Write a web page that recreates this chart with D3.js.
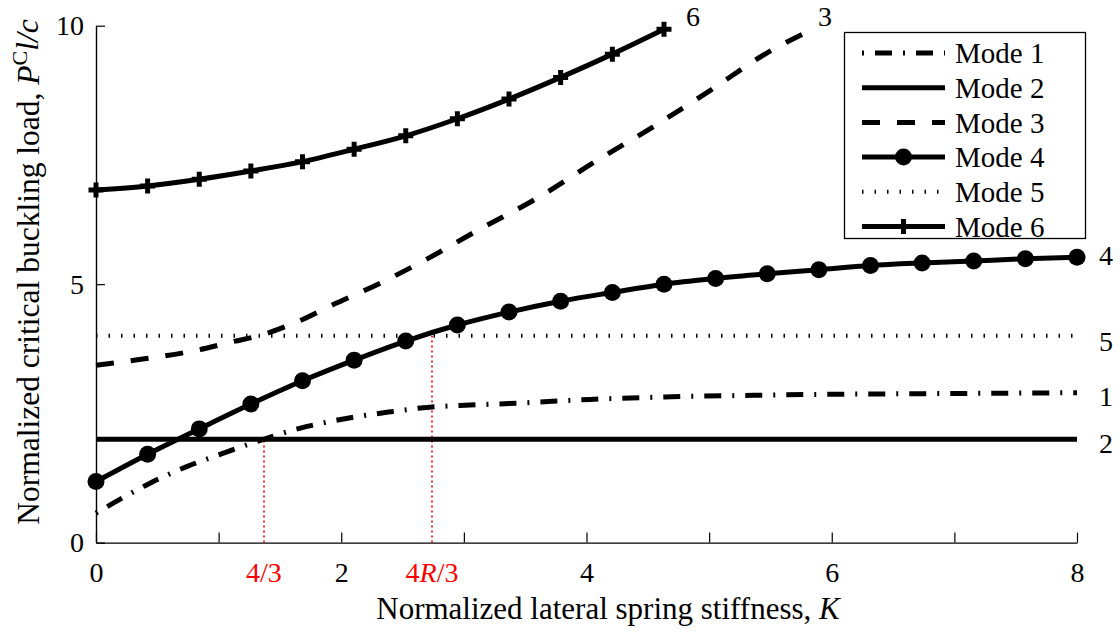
<!DOCTYPE html>
<html>
<head>
<meta charset="utf-8">
<script src="https://cdn.jsdelivr.net/npm/d3@7"></script>
<style>
  html, body { margin: 0; padding: 0; background: #fff; }
  svg { display: block; }
  text { font-family: "Liberation Serif", "Times New Roman", serif; fill: #000; }
</style>
</head>
<body>
<svg id="chart" width="1120" height="632"></svg>
<script>
// ---------- data ----------
const xTicks = [0, 1, 2, 3, 4, 5, 6, 7, 8];
const xTickLabels = ["0", "", "2", "", "4", "", "6", "", "8"];
const yTicks = [0, 5, 10];
const yTickLabels = ["0", "5", "10"];

// marker grid (K)
const kMarkers = [0, 0.421, 0.842, 1.263, 1.684, 2.105, 2.526, 2.947, 3.368, 3.789,
                  4.211, 4.632, 5.053, 5.474, 5.895, 6.316, 6.737, 7.158, 7.579, 8];

// Mode 1 (dash-dot)
const mode1K = [0, 0.22, 0.44, 0.74, 1.04, 1.34, 1.66, 2.04, 2.40, 2.72, 3.05, 3.37, 4.03, 4.69, 5.37, 6.05, 6.71, 7.39, 8];
const mode1P = [0.57, 0.87, 1.15, 1.47, 1.73, 1.98, 2.21, 2.40, 2.53, 2.62, 2.66, 2.69, 2.77, 2.82, 2.85, 2.87, 2.88, 2.89, 2.90];

// Mode 2 (solid, constant)
const mode2K = [0, 8];
const mode2P = [2, 2];

// Mode 3 (dashed)
const mode3K = [0, 0.41, 0.82, 1.12, 1.34, 1.64, 1.93, 2.3, 2.64, 3.12, 3.61, 4.05, 4.54, 5.01, 5.47, 5.88];
const mode3P = [3.43, 3.56, 3.72, 3.89, 4.01, 4.27, 4.60, 5.00, 5.41, 6.05, 6.68, 7.34, 8.04, 8.75, 9.47, 9.97];

// Mode 4 (solid with circles), at kMarkers
const mode4P = [1.18, 1.71, 2.20, 2.68, 3.13, 3.53, 3.90, 4.21, 4.46, 4.67,
                4.84, 5.00, 5.11, 5.20, 5.28, 5.36, 5.41, 5.45, 5.49, 5.52];

// Mode 5 (dotted, constant)
const mode5K = [0, 8];
const mode5P = [4, 4];

// Mode 6 (solid with plus), at first 12 kMarkers
const mode6P = [6.82, 6.90, 7.03, 7.19, 7.37, 7.61, 7.87, 8.20, 8.58, 9.00, 9.45, 9.93];

// Red reference lines
const refK = [1.37, 2.74];
const refP = [2, 4];
const refLabels = [["4/3"], ["4", "R", "/3"]];

const legendLabels = ["Mode 1", "Mode 2", "Mode 3", "Mode 4", "Mode 5", "Mode 6"];
const endLabels = ["1", "2", "3", "4", "5", "6"];

// ---------- setup ----------
const svg = d3.select("#chart");
const x = d3.scaleLinear().domain([0, 8]).range([96, 1077]);
const y = d3.scaleLinear().domain([0, 10]).range([542.6, 25.7]);

const zip = (ks, ps) => ks.map((k, i) => [k, ps[i]]);
const mode1 = zip(mode1K, mode1P);
const mode2 = zip(mode2K, mode2P);
const mode3 = zip(mode3K, mode3P);
const mode4 = zip(kMarkers, mode4P);
const mode5 = zip(mode5K, mode5P);
const mode6 = zip(kMarkers.slice(0, mode6P.length), mode6P);

const line = d3.line().x(d => x(d[0])).y(d => y(d[1])).curve(d3.curveMonotoneX);
const lineStraight = d3.line().x(d => x(d[0])).y(d => y(d[1]));

const styles = [
  { dash: "2,11,17,11", w: 5 },  // mode1
  { dash: null, w: 5 },          // mode2
  { dash: "18,17", w: 5 },       // mode3
  { dash: null, w: 5 },          // mode4
  { dash: "1.5,11", w: 4 },      // mode5
  { dash: null, w: 5 },          // mode6
];

// ---------- axes ----------
const xAxis = d3.axisBottom(x).tickValues(xTicks)
  .tickFormat((d, i) => xTickLabels[i]).tickSizeInner(-10).tickSizeOuter(0).tickPadding(20);
const gx = svg.append("g").attr("transform", `translate(0,${y(0)})`).call(xAxis);
gx.attr("font-family", null);
gx.select(".domain").attr("stroke-width", 1.4);
gx.selectAll(".tick line").attr("stroke-width", 1.2);
gx.selectAll(".tick text").attr("font-size", 28).attr("dy", "0.71em");

const yAxis = d3.axisLeft(y).tickValues(yTicks)
  .tickFormat((d, i) => yTickLabels[i]).tickSizeInner(-9).tickSizeOuter(0).tickPadding(12);
const gy = svg.append("g").attr("transform", `translate(${x(0)},0)`).call(yAxis);
gy.attr("font-family", null);
gy.select(".domain").attr("stroke-width", 1.4);
gy.selectAll(".tick line").attr("stroke-width", 1.2);
gy.selectAll(".tick text").attr("font-size", 28);

// ---------- red reference lines ----------
refK.forEach((k, i) => {
  svg.append("line")
    .attr("x1", x(k)).attr("x2", x(k))
    .attr("y1", y(0)).attr("y2", y(refP[i]))
    .attr("stroke", "#ff0000").attr("stroke-width", 1.6).attr("stroke-dasharray", "2,3");
  const t = svg.append("text").attr("x", x(k)).attr("y", y(0) + 20).attr("dy", "0.71em")
    .attr("text-anchor", "middle").attr("font-size", 28);
  refLabels[i].forEach(s => {
    t.append("tspan").text(s).style("fill", "#ff0000")
      .attr("font-style", s === "R" ? "italic" : "normal");
  });
});

// ---------- series ----------
const plot = svg.append("g");
const series = [mode1, mode2, mode3, mode4, mode5, mode6];
series.forEach((data, i) => {
  const gen = (i === 1 || i === 4) ? lineStraight : line;
  const p = plot.append("path").datum(data)
    .attr("d", gen).attr("fill", "none").attr("stroke", "#000")
    .attr("stroke-width", styles[i].w);
  if (styles[i].dash) p.attr("stroke-dasharray", styles[i].dash);
});

// markers
plot.selectAll("circle.m4").data(mode4).join("circle")
  .attr("class", "m4").attr("cx", d => x(d[0])).attr("cy", d => y(d[1])).attr("r", 8.5).attr("fill", "#000");

const plusPath = (cx, cy, a) => `M${cx - a},${cy}H${cx + a}M${cx},${cy - a}V${cy + a}`;
plot.selectAll("path.m6").data(mode6).join("path")
  .attr("class", "m6").attr("d", d => plusPath(x(d[0]), y(d[1]), 7.5))
  .attr("stroke", "#000").attr("stroke-width", 5).attr("fill", "none");

// ---------- end labels ----------
const endOffsets = [[22, 4], [22, 4], [8, -11], [22, -2], [22, 5], [29, -13]];
series.forEach((data, i) => {
  const last = data[data.length - 1];
  svg.append("text")
    .attr("x", x(last[0]) + endOffsets[i][0])
    .attr("y", y(last[1]) + endOffsets[i][1])
    .attr("dy", "0.35em")
    .attr("text-anchor", i === 2 || i === 5 ? "middle" : "start")
    .attr("font-size", 28).text(endLabels[i]);
});

// ---------- legend ----------
const lg = svg.append("g");
lg.append("rect").attr("x", 844.5).attr("y", 32.5).attr("width", 241).attr("height", 206)
  .attr("fill", "#fff").attr("stroke", "#000").attr("stroke-width", 1.3);
legendLabels.forEach((lab, i) => {
  const ly = 53 + i * 34.7;
  const l = lg.append("line").attr("x1", 862).attr("x2", 945).attr("y1", ly).attr("y2", ly)
    .attr("stroke", "#000").attr("stroke-width", styles[i].w);
  if (styles[i].dash) l.attr("stroke-dasharray", styles[i].dash);
  if (i === 3) lg.append("circle").attr("cx", 903.5).attr("cy", ly).attr("r", 8.5).attr("fill", "#000");
  if (i === 5) lg.append("path").attr("d", plusPath(903.5, ly, 7.5)).attr("stroke", "#000").attr("stroke-width", 5);
  lg.append("text").attr("x", 955).attr("y", ly).attr("dy", "0.35em").attr("font-size", 29).text(lab);
});

// ---------- axis titles ----------
svg.append("text").attr("x", 608).attr("y", 608).attr("dy", "0.35em")
  .attr("text-anchor", "middle").attr("font-size", 31)
  .call(t => {
    t.append("tspan").text("Normalized lateral spring stiffness, ");
    t.append("tspan").attr("font-style", "italic").text("K");
  });

svg.append("text").attr("transform", "translate(28,272) rotate(-90)")
  .attr("text-anchor", "middle").attr("dy", "0.35em").attr("font-size", 31.5)
  .call(t => {
    t.append("tspan").text("Normalized critical buckling load, ");
    t.append("tspan").attr("font-style", "italic").text("P");
    t.append("tspan").attr("font-size", 22).attr("dy", "-0.55em").text("C");
    t.append("tspan").attr("font-style", "italic").attr("dy", "0.35em").text("l/c");
  });
</script>
</body>
</html>
